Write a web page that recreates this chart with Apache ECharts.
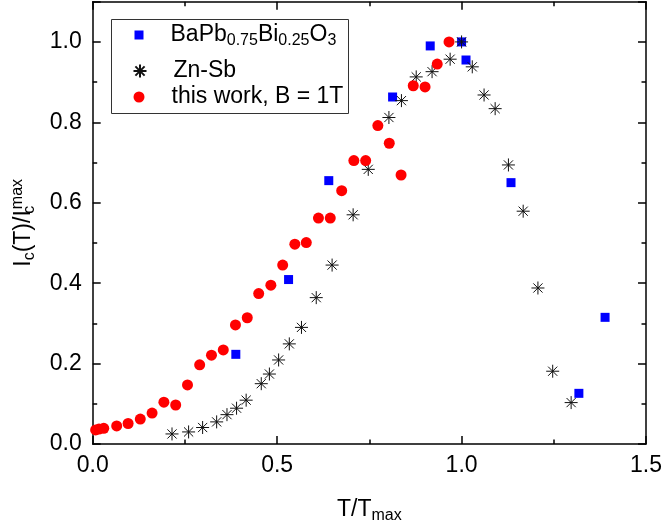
<!DOCTYPE html>
<html>
<head>
<meta charset="utf-8">
<script src="https://cdn.jsdelivr.net/npm/echarts@6/dist/echarts.min.js"></script>
<style>
html,body{margin:0;padding:0;background:#fff;}
#chart{width:665px;height:529px;}
</style>
</head>
<body>
<div id="chart"></div>
<script>
// Series names
const seriesNames = ['BaPb0.75Bi0.25O3', 'Zn-Sb', 'this work, B = 1T'];

// BaPb0.75Bi0.25O3 (blue squares): [T/Tmax, Ic/Icmax]
const bapbX = [0.388, 0.531, 0.640, 0.813, 0.915, 1.000, 1.012, 1.134, 1.318, 1.389];
const bapbY = [0.223, 0.409, 0.655, 0.863, 0.990, 1.000, 0.955, 0.650, 0.126, 0.315];

// Zn-Sb (black stars)
const znsbX = [0.215, 0.260, 0.298, 0.336, 0.364, 0.390, 0.416, 0.457, 0.479, 0.504,
               0.533, 0.566, 0.606, 0.649, 0.706, 0.747, 0.803, 0.837, 0.877, 0.920,
               0.969, 1.000, 1.029, 1.061, 1.091, 1.127, 1.167, 1.207, 1.247, 1.297];
const znsbY = [0.025, 0.030, 0.041, 0.055, 0.073, 0.089, 0.109, 0.150, 0.174, 0.209,
               0.249, 0.290, 0.364, 0.445, 0.570, 0.683, 0.812, 0.854, 0.913, 0.926,
               0.957, 1.000, 0.938, 0.868, 0.834, 0.694, 0.579, 0.388, 0.181, 0.103];

// this work, B = 1T (red circles)
const workX = [0.008, 0.017, 0.030, 0.065, 0.096, 0.129, 0.161, 0.193, 0.225, 0.257,
               0.290, 0.322, 0.354, 0.387, 0.419, 0.450, 0.483, 0.515, 0.548, 0.579,
               0.612, 0.644, 0.675, 0.708, 0.740, 0.773, 0.804, 0.836, 0.869, 0.901,
               0.934, 0.966];
const workY = [0.035, 0.037, 0.039, 0.045, 0.051, 0.062, 0.077, 0.104, 0.097, 0.147,
               0.197, 0.221, 0.234, 0.296, 0.314, 0.374, 0.395, 0.445, 0.497, 0.501,
               0.562, 0.562, 0.630, 0.705, 0.705, 0.792, 0.748, 0.669, 0.891, 0.888,
               0.945, 1.000];

// Axis ranges / ticks
const xMin = 0, xMax = 1.5, xStep = 0.5;
const yMin = 0, yMax = 1.1, yStep = 0.2;

function pairs(xs, ys) { return xs.map((x, i) => [x, ys[i]]); }

const FONT = '"Liberation Sans", Arial, Helvetica, sans-serif';
const FS = 23;
const starPath = 'path://M6 0L6 12M0 6L12 6M1.76 1.76L10.24 10.24M10.24 1.76L1.76 10.24';
const squarePath = 'path://M0 0L9 0L9 9L0 9Z';

const chart = echarts.init(document.getElementById('chart'), null, {renderer: 'canvas'});

const axisCommon = {
  axisLine: {show: true, onZero: false, lineStyle: {color: '#000', width: 1.5}},
  axisTick: {show: true, inside: true, length: 8, lineStyle: {color: '#000', width: 1.5}},
  minorTick: {show: true, splitNumber: 2, length: 4.5, lineStyle: {color: '#000', width: 1.5}},
  splitLine: {show: false},
  minorSplitLine: {show: false}
};

const subRich = {
  sub: {fontSize: 16, fontFamily: FONT, color: '#000', lineHeight: 14, verticalAlign: 'bottom'},
  sup: {fontSize: 16, fontFamily: FONT, color: '#000', lineHeight: 14, verticalAlign: 'top'},
  sub0: {fontSize: 16, fontFamily: FONT, color: '#000', lineHeight: 14, verticalAlign: 'bottom', width: 1},
  sp: {width: 22}
};

function legendFor(name, top, iconSize, fmt) {
  return {
    show: true,
    data: [name],
    left: 139 - iconSize / 2,
    top: top,
    padding: 0,
    orient: 'vertical',
    itemWidth: iconSize,
    itemHeight: iconSize,
    selectedMode: false,
    formatter: function () { return fmt; },
    textStyle: {
      fontSize: FS, fontFamily: FONT, color: '#000', lineHeight: 28,
      rich: subRich
    }
  };
}

const option = {
  animation: false,
  backgroundColor: '#fff',
  grid: {left: 92.7, right: 18, top: 1.7, bottom: 83.7, containLabel: false},
  xAxis: [
    Object.assign({
      type: 'value', min: xMin, max: xMax, interval: xStep, position: 'bottom',
      name: 'T/T{sub|max}', nameLocation: 'middle', nameGap: 52,
      nameTextStyle: {fontSize: FS, fontFamily: FONT, color: '#000', lineHeight: 28, rich: subRich},
      axisLabel: {fontSize: FS, fontFamily: FONT, color: '#000', margin: 10,
        formatter: v => v.toFixed(1)}
    }, axisCommon),
    Object.assign({
      type: 'value', min: xMin, max: xMax, interval: xStep, position: 'top',
      axisLabel: {show: false}
    }, axisCommon)
  ],
  yAxis: [
    Object.assign({
      type: 'value', min: yMin, max: yMax, interval: yStep, position: 'left',
      name: 'I{sub|c}(T)/I{sub0|c}{sup|max}', nameLocation: 'middle', nameGap: 55,
      nameTextStyle: {fontSize: FS, fontFamily: FONT, color: '#000', lineHeight: 28, rich: subRich},
      axisLabel: {fontSize: FS, fontFamily: FONT, color: '#000', margin: 11,
        formatter: v => (v > 1.05 ? '' : v.toFixed(1))}
    }, axisCommon),
    Object.assign({
      type: 'value', min: yMin, max: yMax, interval: yStep, position: 'right',
      axisLabel: {show: false}
    }, axisCommon)
  ],
  legend: [
    legendFor(seriesNames[0], 35 - 14, 9, '{sp|}BaPb{sub|0.75}Bi{sub|0.25}O{sub|3}'),
    legendFor(seriesNames[1], 71 - 14, 13, '{sp|}Zn-Sb'),
    legendFor(seriesNames[2], 97 - 14, 11, '{sp|}this work, B = 1T')
  ],
  graphic: [{
    type: 'rect', left: 111, top: 19, z: 0,
    shape: {width: 237, height: 94},
    style: {fill: '#fff', stroke: '#333', lineWidth: 1}
  }],
  series: [
    {
      name: seriesNames[0], type: 'scatter', xAxisIndex: 0, yAxisIndex: 0,
      symbol: squarePath, symbolSize: 9,
      itemStyle: {color: '#0000ff', opacity: 1},
      data: pairs(bapbX, bapbY)
    },
    {
      name: seriesNames[1], type: 'scatter', xAxisIndex: 0, yAxisIndex: 0,
      symbol: starPath, symbolSize: 13,
      itemStyle: {color: 'rgba(0,0,0,0)', borderColor: '#111', borderWidth: 1, opacity: 1},
      data: pairs(znsbX, znsbY)
    },
    {
      name: seriesNames[2], type: 'scatter', xAxisIndex: 0, yAxisIndex: 0,
      symbol: 'circle', symbolSize: 11,
      itemStyle: {color: '#ff0000', opacity: 1},
      data: pairs(workX, workY)
    }
  ]
};

chart.setOption(option);
</script>
</body>
</html>
